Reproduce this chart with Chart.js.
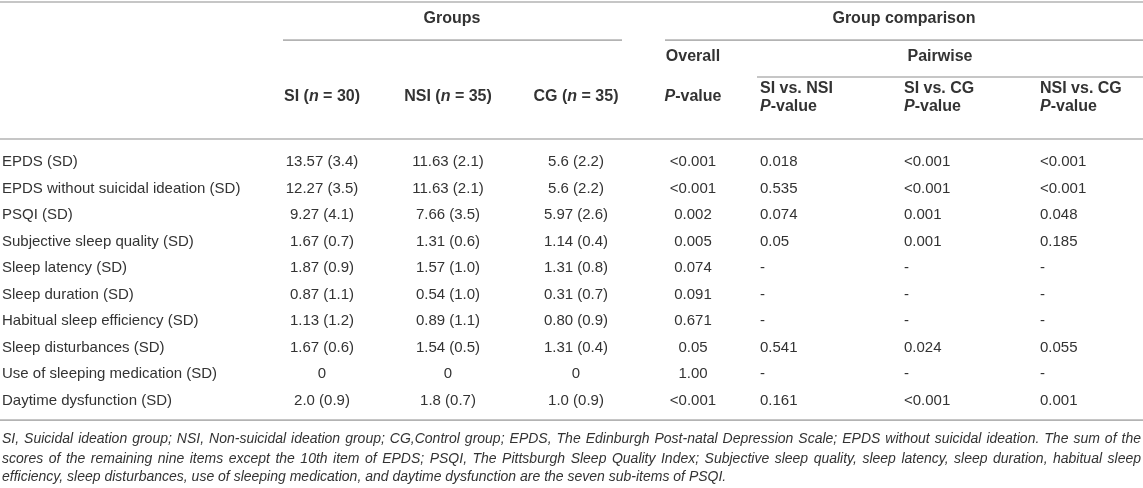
<!DOCTYPE html>
<html>
<head>
<meta charset="utf-8">
<script src="https://cdn.jsdelivr.net/npm/chart.js@4"></script>
<style>
  html, body { margin: 0; padding: 0; background: #fff; }
  canvas { display: block; }
</style>
</head>
<body>
<canvas id="table" width="1143" height="488"></canvas>
<script>
// table content
const rowLabels = [
  "EPDS (SD)", "EPDS without suicidal ideation (SD)", "PSQI (SD)",
  "Subjective sleep quality (SD)", "Sleep latency (SD)", "Sleep duration (SD)",
  "Habitual sleep efficiency (SD)", "Sleep disturbances (SD)",
  "Use of sleeping medication (SD)", "Daytime dysfunction (SD)"
];
const siValues  = ["13.57 (3.4)", "12.27 (3.5)", "9.27 (4.1)", "1.67 (0.7)", "1.87 (0.9)", "0.87 (1.1)", "1.13 (1.2)", "1.67 (0.6)", "0", "2.0 (0.9)"];
const nsiValues = ["11.63 (2.1)", "11.63 (2.1)", "7.66 (3.5)", "1.31 (0.6)", "1.57 (1.0)", "0.54 (1.0)", "0.89 (1.1)", "1.54 (0.5)", "0", "1.8 (0.7)"];
const cgValues  = ["5.6 (2.2)", "5.6 (2.2)", "5.97 (2.6)", "1.14 (0.4)", "1.31 (0.8)", "0.31 (0.7)", "0.80 (0.9)", "1.31 (0.4)", "0", "1.0 (0.9)"];
const pOverall  = ["<0.001", "<0.001", "0.002", "0.005", "0.074", "0.091", "0.671", "0.05", "1.00", "<0.001"];
const pSiNsi    = ["0.018", "0.535", "0.074", "0.05", "-", "-", "-", "0.541", "-", "0.161"];
const pSiCg     = ["<0.001", "<0.001", "0.001", "0.001", "-", "-", "-", "0.024", "-", "<0.001"];
const pNsiCg    = ["<0.001", "<0.001", "0.048", "0.185", "-", "-", "-", "0.055", "-", "0.001"];

const topHeads   = ["Groups", "Group comparison"];
const midHeads   = ["Overall", "Pairwise"];
const groupHeads = ["SI (*n* = 30)", "NSI (*n* = 35)", "CG (*n* = 35)"];
const overallHead = "*P*-value";
const pairHeads  = ["SI vs. NSI", "SI vs. CG", "NSI vs. CG"];
const pairSub    = "*P*-value";

const footLines = [
  "SI, Suicidal ideation group; NSI, Non-suicidal ideation group; CG,Control group; EPDS, The Edinburgh Post-natal Depression Scale; EPDS without suicidal ideation. The sum of the",
  "scores of the remaining nine items except the 10th item of EPDS; PSQI, The Pittsburgh Sleep Quality Index; Subjective sleep quality, sleep latency, sleep duration, habitual sleep",
  "efficiency, sleep disturbances, use of sleeping medication, and daytime dysfunction are the seven sub-items of PSQI."
];

// layout (x in pixel units, y in row units; row 0 = first body row)
const colX = { label: 2, si: 322, nsi: 448, cg: 576, overall: 693, siNsi: 760, siCg: 904, nsiCg: 1040 };
const rowY = { top: -6.04, title: -5.43, under1: -4.6, sub: -3.96, under2: -3.21,
               head: -2.45, head1: -2.77, head2: -2.1, headLine: -0.87, bottom: 9.74,
               foot: [10.45, 11.21, 11.89] };

const FONT = '"Liberation Sans", Arial, Helvetica, sans-serif';
const TEXT = "#333";
const RULE = "#b3b3b3";

function cellSet(texts, x, align) {
  return { type: "scatter", data: texts.map((t, i) => ({ x: x, y: i })),
           cellText: texts, align: align, weight: "normal", size: 15,
           pointRadius: 0, showLine: false };
}
function headSet(texts, xs, y, align) {
  return { type: "scatter", data: texts.map((t, i) => ({ x: xs[i], y: y })),
           cellText: texts, align: align, weight: "bold", size: 16,
           pointRadius: 0, showLine: false };
}
function ruleSet(x0, x1, y) {
  return { type: "line", data: [{ x: x0, y: y }, { x: x1, y: y }],
           borderColor: RULE, borderWidth: 1.6, pointRadius: 0, showLine: true, fill: false };
}

function drawRich(ctx, text, x, y, align, weight, size) {
  const parts = text.split("*");
  const fonts = parts.map((p, k) => (k % 2 ? "italic " : "") + weight + " " + size + "px " + FONT);
  let w = 0;
  parts.forEach((p, k) => { ctx.font = fonts[k]; w += ctx.measureText(p).width; });
  let cx = align === "center" ? x - w / 2 : x;
  parts.forEach((p, k) => {
    ctx.font = fonts[k];
    ctx.fillText(p, cx, y);
    cx += ctx.measureText(p).width;
  });
}

const tableText = {
  id: "tableText",
  afterDatasetsDraw(chart) {
    const ctx = chart.ctx;
    ctx.save();
    ctx.fillStyle = TEXT;
    ctx.textBaseline = "middle";
    ctx.textAlign = "left";
    chart.data.datasets.forEach((ds, i) => {
      if (!ds.cellText) return;
      chart.getDatasetMeta(i).data.forEach((el, j) => {
        drawRich(ctx, ds.cellText[j], el.x, el.y, ds.align, ds.weight, ds.size);
      });
    });
    // footnote, justified
    const xs = chart.scales.x, ys = chart.scales.y;
    const left = xs.getPixelForValue(2), right = xs.getPixelForValue(1141);
    ctx.font = "italic 14px " + FONT;
    footLines.forEach((line, k) => {
      const y = ys.getPixelForValue(rowY.foot[k]);
      if (k === footLines.length - 1) { ctx.fillText(line, left, y); return; }
      const words = line.split(" ");
      const ww = words.reduce((s, t) => s + ctx.measureText(t).width, 0);
      const gap = (right - left - ww) / (words.length - 1);
      let cx = left;
      words.forEach(t => { ctx.fillText(t, cx, y); cx += ctx.measureText(t).width + gap; });
    });
    ctx.restore();
  }
};

const datasets = [
  ruleSet(0, 1143, rowY.top),
  ruleSet(283, 622, rowY.under1),
  ruleSet(665, 1143, rowY.under1),
  ruleSet(757, 1143, rowY.under2),
  ruleSet(0, 1143, rowY.headLine),
  ruleSet(0, 1143, rowY.bottom),
  headSet(topHeads, [452, 904], rowY.title, "center"),
  headSet(midHeads, [colX.overall, 940], rowY.sub, "center"),
  headSet(groupHeads, [colX.si, colX.nsi, colX.cg], rowY.head, "center"),
  headSet([overallHead], [colX.overall], rowY.head, "center"),
  headSet(pairHeads, [colX.siNsi, colX.siCg, colX.nsiCg], rowY.head1, "left"),
  headSet([pairSub, pairSub, pairSub], [colX.siNsi, colX.siCg, colX.nsiCg], rowY.head2, "left"),
  cellSet(rowLabels, colX.label, "left"),
  cellSet(siValues, colX.si, "center"),
  cellSet(nsiValues, colX.nsi, "center"),
  cellSet(cgValues, colX.cg, "center"),
  cellSet(pOverall, colX.overall, "center"),
  cellSet(pSiNsi, colX.siNsi, "left"),
  cellSet(pSiCg, colX.siCg, "left"),
  cellSet(pNsiCg, colX.nsiCg, "left")
];

new Chart(document.getElementById("table"), {
  type: "scatter",
  data: { datasets: datasets },
  options: {
    responsive: false,
    animation: false,
    events: [],
    layout: { padding: 0 },
    plugins: { legend: { display: false }, tooltip: { enabled: false } },
    scales: {
      x: { type: "linear", min: 0, max: 1143, display: false },
      y: { type: "linear", min: -6.113, max: 12.302, reverse: true, display: false }
    }
  },
  plugins: [tableText]
});
</script>
</body>
</html>
